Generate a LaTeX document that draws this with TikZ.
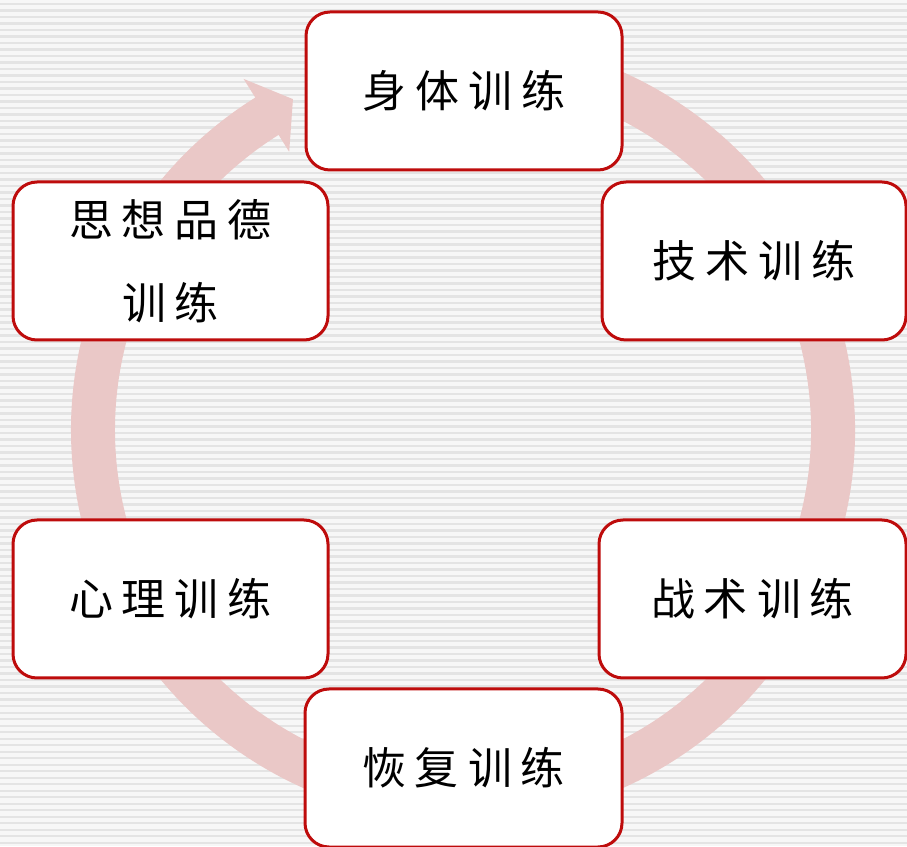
\documentclass[tikz,border=0pt]{standalone}
\usepackage{fontspec}
\newfontfamily\cjk{Noto Sans CJK SC}
\definecolor{boxred}{RGB}{190,12,12}
\definecolor{ringpink}{RGB}{234,200,199}
\definecolor{bgcol}{RGB}{247,247,247}
\definecolor{stripe}{RGB}{228,228,228}
\newcommand{\gp}{\hspace{9pt}}
\begin{document}
\begin{tikzpicture}[x=1pt,y=1pt,
  box/.style={draw=boxred, line width=3pt, fill=white, rounded corners=24pt,
    inner sep=0pt, font=\cjk\fontsize{44}{83}\selectfont, align=center}]
\useasboundingbox (0,0) rectangle (907,846);
\clip (0,0) rectangle (907,846);
\fill[bgcol] (0,0) rectangle (907,846);
\foreach \i in {0,...,130} \fill[stripe] (0,{846-3-\i*6.5}) rectangle (907,{846-3-\i*6.5-2.2});
\coordinate (c) at (463,416);
\draw[ringpink, line width=44pt] ([shift={(100:370)}]c) arc[start angle=100, end angle=-238.5, radius=370];
\fill[ringpink] ([shift={(122:414)}]c) -- ([shift={(117.2:372)}]c) -- ([shift={(122:328)}]c) -- cycle;
\node[box, minimum width=316pt, minimum height=158pt] (shenti) at (464,755) {身\gp 体\gp 训\gp 练};
\node[box, minimum width=304pt, minimum height=158pt] (jishu) at (754,585) {技\gp 术\gp 训\gp 练};
\node[box, minimum width=315pt, minimum height=158pt] (sixiang) at (170.5,585) {思\gp 想\gp 品\gp 德\\训\gp 练};
\node[box, minimum width=315pt, minimum height=158pt] (xinli) at (170.5,247) {心\gp 理\gp 训\gp 练};
\node[box, minimum width=307pt, minimum height=158pt] (zhanshu) at (752.5,247) {战\gp 术\gp 训\gp 练};
\node[box, minimum width=317pt, minimum height=158pt] (huifu) at (463.5,78) {恢\gp 复\gp 训\gp 练};
\end{tikzpicture}
\end{document}
